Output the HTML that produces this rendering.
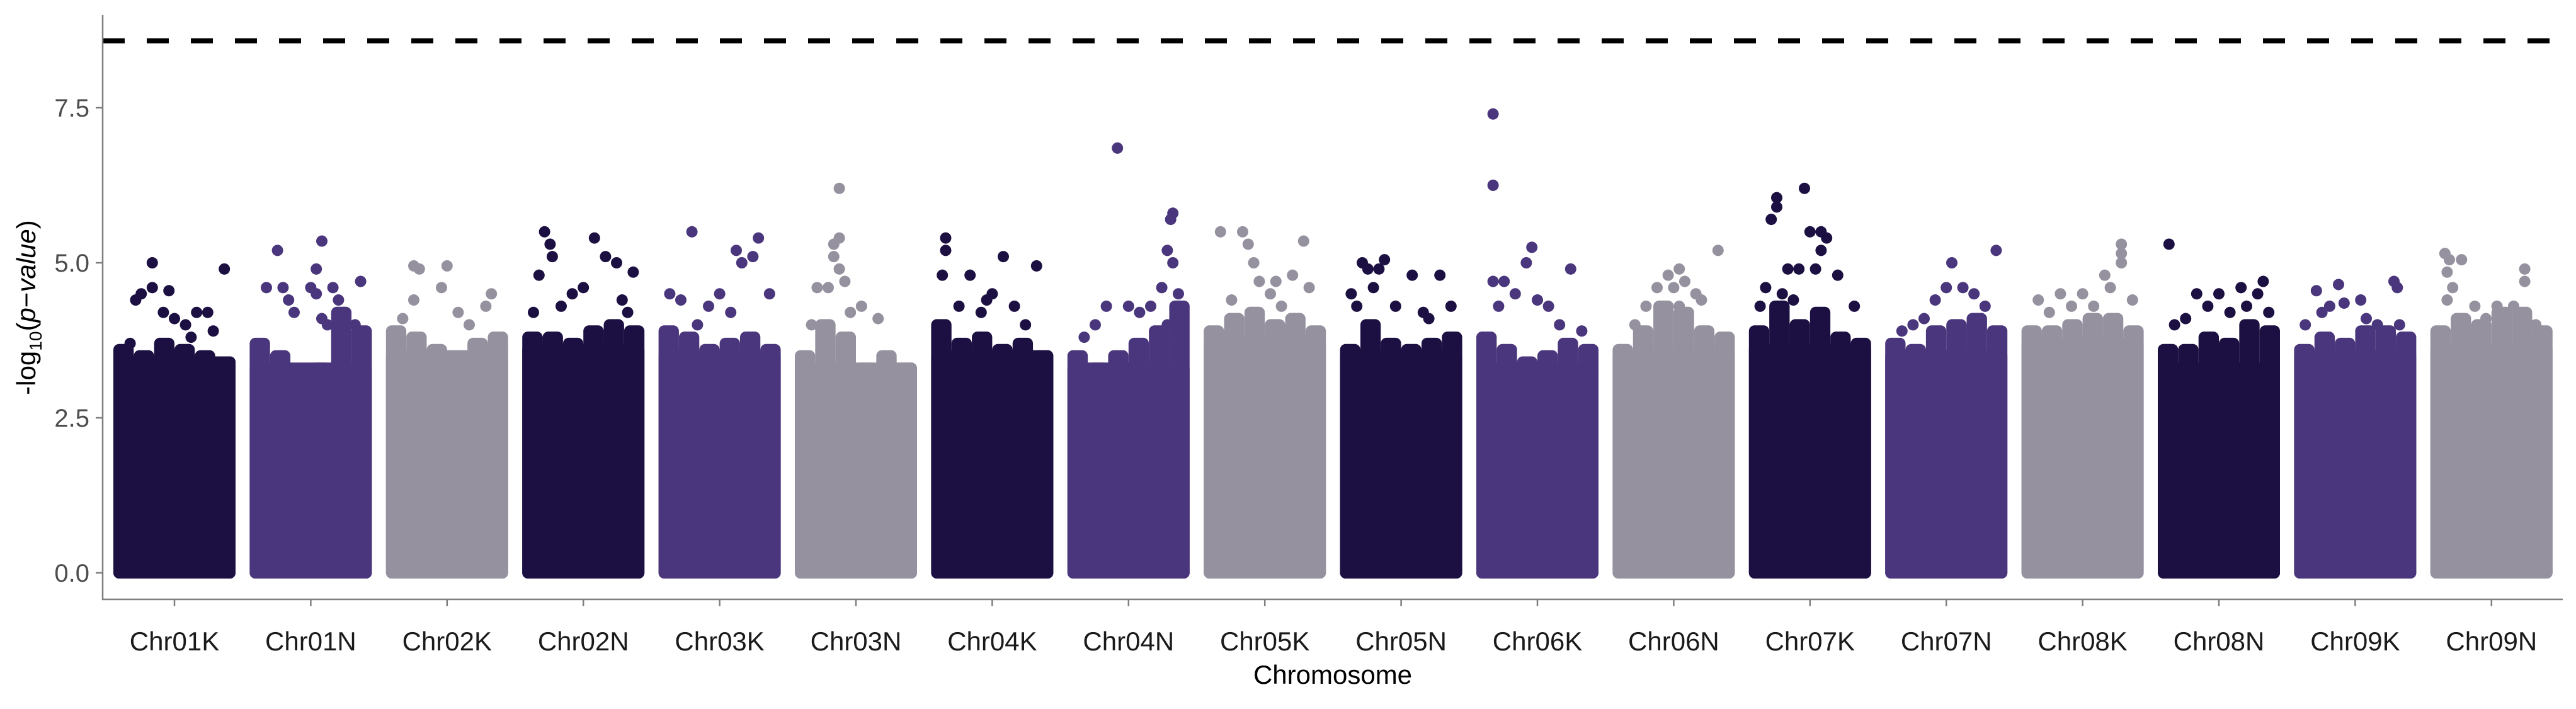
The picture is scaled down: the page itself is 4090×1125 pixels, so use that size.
<!DOCTYPE html>
<html><head><meta charset="utf-8"><style>
html,body{margin:0;padding:0;background:#fff;}
svg{display:block;}
text{font-family:"Liberation Sans",sans-serif;}
</style></head><body>
<svg id="chart" width="4090" height="1125" viewBox="0 0 4090 1125" xmlns="http://www.w3.org/2000/svg"></svg>
<script>
const chromosomes = ["Chr01K","Chr01N","Chr02K","Chr02N","Chr03K","Chr03N","Chr04K","Chr04N","Chr05K","Chr05N","Chr06K","Chr06N","Chr07K","Chr07N","Chr08K","Chr08N","Chr09K","Chr09N"];
const solidLevels = [3.4,3.3,3.5,3.6,3.5,3.3,3.5,3.3,3.7,3.5,3.3,3.5,3.6,3.5,3.7,3.3,3.5,3.6];
const envelope = [
 [3.6,3.5,3.7,3.6,3.5,3.4],
 [3.7,3.5,3.2,3.3,4.2,3.9],
 [3.9,3.8,3.6,3.5,3.7,3.8],
 [3.8,3.8,3.7,3.9,4.0,3.9],
 [3.9,3.8,3.6,3.7,3.8,3.6],
 [3.5,4.0,3.8,3.3,3.5,3.3],
 [4.0,3.7,3.8,3.6,3.7,3.5],
 [3.5,3.3,3.5,3.7,3.9,4.3],
 [3.9,4.1,4.2,4.0,4.1,3.9],
 [3.6,4.0,3.7,3.6,3.7,3.8],
 [3.8,3.6,3.4,3.5,3.7,3.6],
 [3.6,3.9,4.3,4.2,3.9,3.8],
 [3.9,4.3,4.0,4.2,3.8,3.7],
 [3.7,3.6,3.9,4.0,4.1,3.9],
 [3.9,3.9,4.0,4.1,4.1,3.9],
 [3.6,3.6,3.8,3.7,4.0,3.9],
 [3.6,3.8,3.7,3.9,3.9,3.8],
 [3.9,4.1,4.0,4.2,4.2,3.9]
];
const yTicks = [0,2.5,5.0,7.5];
const yTickLabels = ["0.0","2.5","5.0","7.5"];
const threshold = 8.58;
const outliers = [
 [[0.1,3.7],[0.2,4.5],[0.3,4.6],[0.3,5.0],[0.45,4.55],[0.5,4.1],[0.6,4.0],[0.7,4.2],[0.8,4.2],[0.95,4.9],[0.15,4.4],[0.4,4.2],[0.65,3.8],[0.85,3.9]],
 [[0.2,5.2],[0.6,5.35],[0.55,4.9],[0.1,4.6],[0.25,4.6],[0.3,4.4],[0.5,4.6],[0.7,4.6],[0.95,4.7],[0.35,4.2],[0.75,4.4],[0.55,4.5],[0.8,4.2],[0.9,4.0],[0.6,4.1],[0.65,4.0]],
 [[0.2,4.95],[0.25,4.9],[0.5,4.95],[0.45,4.6],[0.2,4.4],[0.9,4.5],[0.85,4.3],[0.1,4.1],[0.7,4.0],[0.6,4.2]],
 [[0.15,5.5],[0.2,5.3],[0.22,5.1],[0.6,5.4],[0.7,5.1],[0.8,5.0],[0.95,4.85],[0.1,4.8],[0.4,4.5],[0.5,4.6],[0.3,4.3],[0.85,4.4],[0.9,4.2],[0.05,4.2]],
 [[0.25,5.5],[0.65,5.2],[0.85,5.4],[0.8,5.1],[0.7,5.0],[0.05,4.5],[0.15,4.4],[0.5,4.5],[0.95,4.5],[0.4,4.3],[0.6,4.2],[0.3,4.0]],
 [[0.35,6.2],[0.3,5.3],[0.35,5.4],[0.3,5.1],[0.35,4.9],[0.25,4.6],[0.4,4.7],[0.15,4.6],[0.55,4.3],[0.7,4.1],[0.1,4.0],[0.45,4.2]],
 [[0.08,5.4],[0.08,5.2],[0.3,4.8],[0.6,5.1],[0.9,4.95],[0.05,4.8],[0.5,4.5],[0.45,4.4],[0.7,4.3],[0.8,4.0],[0.2,4.3],[0.4,4.2]],
 [[0.4,6.85],[0.9,5.8],[0.88,5.7],[0.85,5.2],[0.9,5.0],[0.8,4.6],[0.3,4.3],[0.5,4.3],[0.6,4.2],[0.7,4.3],[0.2,4.0],[0.1,3.8],[0.95,4.5],[0.85,4.0],[0.9,3.8]],
 [[0.1,5.5],[0.3,5.5],[0.35,5.3],[0.85,5.35],[0.4,5.0],[0.45,4.7],[0.6,4.7],[0.75,4.8],[0.2,4.4],[0.55,4.5],[0.9,4.6],[0.65,4.3]],
 [[0.15,5.0],[0.35,5.05],[0.3,4.9],[0.2,4.9],[0.6,4.8],[0.85,4.8],[0.05,4.5],[0.45,4.3],[0.7,4.2],[0.95,4.3],[0.1,4.3],[0.25,4.6],[0.75,4.1]],
 [[0.1,7.4],[0.1,6.25],[0.1,4.7],[0.2,4.7],[0.45,5.25],[0.4,5.0],[0.8,4.9],[0.3,4.5],[0.15,4.3],[0.6,4.3],[0.7,4.0],[0.9,3.9],[0.5,4.4]],
 [[0.45,4.8],[0.55,4.9],[0.6,4.7],[0.9,5.2],[0.35,4.6],[0.25,4.3],[0.75,4.4],[0.15,4.0],[0.7,4.5],[0.5,4.6],[0.4,4.2],[0.55,4.3]],
 [[0.2,6.05],[0.2,5.9],[0.15,5.7],[0.45,6.2],[0.5,5.5],[0.6,5.5],[0.65,5.4],[0.6,5.2],[0.3,4.9],[0.55,4.9],[0.4,4.9],[0.75,4.8],[0.1,4.6],[0.25,4.5],[0.05,4.3],[0.9,4.3],[0.35,4.4]],
 [[0.55,5.0],[0.95,5.2],[0.5,4.6],[0.65,4.6],[0.4,4.4],[0.3,4.1],[0.75,4.5],[0.85,4.3],[0.2,4.0],[0.1,3.9]],
 [[0.85,5.3],[0.85,5.15],[0.85,5.0],[0.7,4.8],[0.1,4.4],[0.3,4.5],[0.5,4.5],[0.6,4.3],[0.95,4.4],[0.75,4.6],[0.2,4.2],[0.4,4.3]],
 [[0.05,5.3],[0.3,4.5],[0.5,4.5],[0.7,4.6],[0.9,4.7],[0.85,4.5],[0.2,4.1],[0.4,4.3],[0.6,4.2],[0.95,4.2],[0.1,4.0],[0.75,4.3]],
 [[0.15,4.55],[0.35,4.65],[0.85,4.7],[0.88,4.6],[0.55,4.4],[0.4,4.35],[0.27,4.3],[0.05,4.0],[0.9,4.0],[0.7,4.0],[0.6,4.1],[0.2,4.2]],
 [[0.08,5.15],[0.12,5.05],[0.23,5.05],[0.1,4.85],[0.8,4.9],[0.8,4.7],[0.15,4.6],[0.1,4.4],[0.35,4.3],[0.55,4.3],[0.7,4.3],[0.9,4.0],[0.45,4.1]]
];
const colors = ["#1c1042","#4a367c","#96919f"];

const NS = "http://www.w3.org/2000/svg";
const svg = document.getElementById("chart");
const y0 = 909, pxPerUnit = 98.4;
function yScale(v){ return y0 - v * pxPerUnit; }
function xScale(i){ return 277 + i * 216.4; }
const halfW = 97, r = 9;
function mk(tag, attrs, parent){ const e = document.createElementNS(NS, tag); for (const k in attrs) e.setAttribute(k, attrs[k]); (parent||svg).appendChild(e); return e; }

chromosomes.forEach((c, i) => {
  const g = mk("g", {});
  
  
  const col = colors[i % 3];
  const cx = xScale(i);
  const left = cx - halfW;
  const top = yScale(solidLevels[i]);
  const rect = mk("rect", {x: left, y: top - r, width: halfW*2, height: (y0 + r) - (top - r), rx: r, fill: col}, g);
  
  
  const env = envelope[i];
  const segW = (halfW*2) / env.length;
  env.forEach((v, k) => {
    const ty = yScale(v);
    const seg = mk("rect", {x: left + k*segW, y: ty - r, width: segW, height: (y0 + r) - (ty - r), rx: r, fill: col}, g);
    
    
  });
  outliers[i].forEach(p => {
    const px = left + r + p[0] * (halfW*2 - 2*r);
    const py = yScale(p[1]);
    const pt = mk("circle", {cx: px, cy: py, r: r, fill: col}, g);
    
    
  });
});

const th = mk("line", {x1: 163, x2: 4069, y1: yScale(threshold), y2: yScale(threshold), stroke: "#000", "stroke-width": 8, "stroke-dasharray": "35 35"});



const ya = mk("line", {x1: 163, x2: 163, y1: 24, y2: 952, stroke: "#7f7f7f", "stroke-width": 2.5});


const xa = mk("line", {x1: 162, x2: 4069, y1: 951, y2: 951, stroke: "#7f7f7f", "stroke-width": 2.5});



yTicks.forEach((v, k) => {
  const t = mk("line", {x1: 152, x2: 163, y1: yScale(v), y2: yScale(v), stroke: "#7f7f7f", "stroke-width": 2.5});
  
  
  const l = mk("text", {x: 142, y: yScale(v) + 14, "text-anchor": "end", "font-size": 40, fill: "#4d4d4d"});
  l.textContent = yTickLabels[k];
  
  
});

chromosomes.forEach((c, i) => {
  const t = mk("line", {x1: xScale(i), x2: xScale(i), y1: 951, y2: 962, stroke: "#7f7f7f", "stroke-width": 2.5});
  
  
  const l = mk("text", {x: xScale(i), y: 1032, "text-anchor": "middle", "font-size": 42, fill: "#1a1a1a"});
  l.textContent = c;
  
  
});

const xt = mk("text", {x: 2116, y: 1085, "text-anchor": "middle", "font-size": 42, fill: "#000"});
xt.textContent = "Chromosome";



const ytl = mk("text", {x: 0, y: 0, "text-anchor": "middle", "font-size": 42, fill: "#000", transform: "translate(56,488) rotate(-90)"});
ytl.innerHTML = '-log<tspan font-size="28" dy="10">10</tspan><tspan dy="-10">(</tspan><tspan font-style="italic">p</tspan>−<tspan font-style="italic">value</tspan>)';


</script>
</body></html>
